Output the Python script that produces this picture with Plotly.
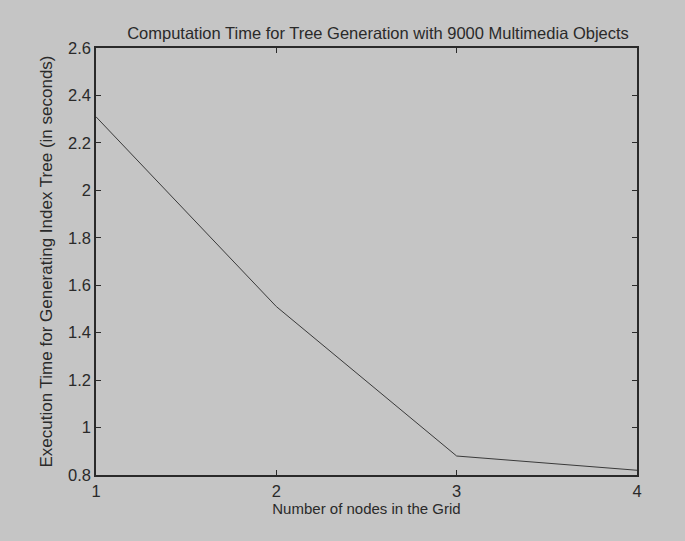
import plotly.graph_objects as go

# Grid size vs. time to build the index tree
nodes = [1, 2, 3, 4]
exec_time = [2.31, 1.51, 0.88, 0.82]

x_ticks = [1, 2, 3, 4]
y_ticks = [0.8, 1, 1.2, 1.4, 1.6, 1.8, 2, 2.2, 2.4, 2.6]
y_tick_text = ["0.8", "1", "1.2", "1.4", "1.6", "1.8", "2", "2.2", "2.4", "2.6"]

bg = "#c5c5c5"
ink = "#2a2a2a"
family = "Liberation Sans, Arial, sans-serif"
font = dict(family=family, size=16.5, color=ink)
xlabel_font = dict(family=family, size=15, color=ink)
ylabel_font = dict(family=family, size=17, color=ink)

fig = go.Figure(
    go.Scatter(
        x=nodes, y=exec_time, mode="lines",
        line=dict(color="#3a3a3a", width=1),
        showlegend=False,
    )
)

axis_common = dict(
    showgrid=False, zeroline=False,
    showline=True, linecolor=ink, linewidth=1.5, mirror="ticks",
    ticks="inside", ticklen=5, tickcolor=ink, tickwidth=1,
    tickfont=font,
)

fig.update_xaxes(
    range=[1, 4], tickvals=x_ticks,
    title=dict(text="Number of nodes in the Grid", font=xlabel_font, standoff=5),
    **axis_common,
)
fig.update_yaxes(
    range=[0.8, 2.6], tickvals=y_ticks, ticktext=y_tick_text,
    title=dict(text="Execution Time for Generating Index Tree (in seconds)", font=ylabel_font, standoff=11),
    **axis_common,
)

fig.update_layout(
    width=685, height=541,
    paper_bgcolor=bg, plot_bgcolor=bg,
    margin=dict(l=96, r=48, t=48, b=66),
    font=font,
    title=dict(
        text="Computation Time for Tree Generation with 9000 Multimedia Objects",
        font=font, x=378 / 685, xanchor="center", y=1 - 33 / 541, yanchor="middle",
    ),
)

fig.write_html("out.html")
